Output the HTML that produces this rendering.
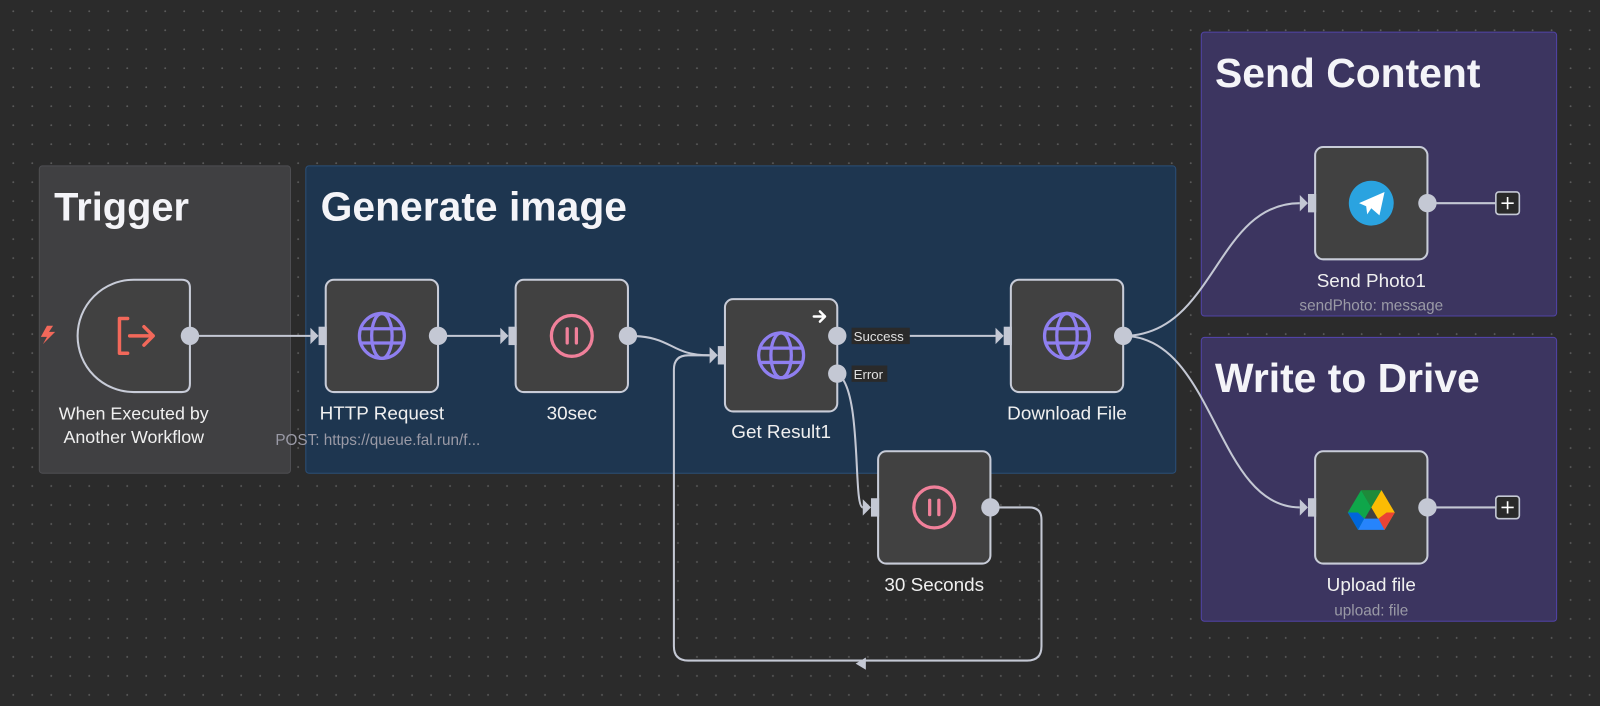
<!DOCTYPE html>
<html><head><meta charset="utf-8"><style>
html,body{margin:0;padding:0;background:#2b2b2b;}
svg{display:block;}
text{font-family:"Liberation Sans",sans-serif;}
</style></head><body>
<svg width="1600" height="706" viewBox="0 0 1567 691.5" preserveAspectRatio="none" xmlns="http://www.w3.org/2000/svg">
<defs>
<pattern id="dots" width="18.6" height="18.6" patternUnits="userSpaceOnUse" x="4" y="2">
<circle cx="9" cy="9" r="0.9" fill="#5c5c5c"/>
</pattern>
<g id="globe" fill="none" stroke="#8f7ff0" stroke-width="3.2">
<circle cx="0" cy="0" r="22"/>
<ellipse cx="0" cy="0" rx="10" ry="22"/>
<line x1="-22" y1="-7" x2="22" y2="-7"/>
<line x1="-22" y1="7" x2="22" y2="7"/>
</g>
<g id="pause" fill="none" stroke="#f0809a" stroke-width="3.2">
<circle cx="0" cy="0" r="20"/>
<line x1="-4.5" y1="-7" x2="-4.5" y2="7" stroke-linecap="round"/>
<line x1="4.5" y1="-7" x2="4.5" y2="7" stroke-linecap="round"/>
</g>
<g id="inp" fill="#c4c8d4">
<rect x="-4" y="-9" width="8" height="18"/>
<polygon points="-12,-8 -4,0 -12,8"/>
</g>
</defs>
<rect width="1567" height="692" fill="#2b2b2b"/>
<rect width="1567" height="692" fill="url(#dots)"/>

<!-- groups -->
<rect x="38.5" y="162.5" width="246" height="301" rx="3" fill="#404042" stroke="#4e4e52"/>
<text x="53" y="216" font-size="39" font-weight="bold" fill="#f4f4f8">Trigger</text>
<rect x="299.5" y="162.5" width="852" height="301" rx="3" fill="#1e3650" stroke="#2b4f78"/>
<text x="314" y="216" font-size="40" font-weight="bold" fill="#f4f4f8">Generate image</text>
<rect x="1176.5" y="31.5" width="348" height="278" rx="3" fill="#3c3560" stroke="#5143a6"/>
<text x="1190" y="85" font-size="40" font-weight="bold" fill="#f4f4f8">Send Content</text>
<rect x="1176.5" y="330.5" width="348" height="278" rx="3" fill="#3c3560" stroke="#5143a6"/>
<text x="1190" y="384" font-size="40" font-weight="bold" fill="#f4f4f8">Write to Drive</text>

<!-- edges -->
<g fill="none" stroke="#c4c8d4" stroke-width="2">
<path d="M194 329 H304"/>
<path d="M429 329 H490"/>
<path d="M615 329 C660 329 655 348 695 348"/>
<path d="M868 329 H975"/>
<path d="M820 366 C845 380 835 497 845 497"/>
<path d="M970 497 H1008 Q1020 497 1020 509 V633 Q1020 647 1006 647 H674 Q660 647 660 633 V362 Q660 348 674 348 H695"/>
<path d="M1100 329 C1190 329 1190 199 1273 199"/>
<path d="M1100 329 C1190 329 1190 497 1273 497"/>
<path d="M1398 199 H1465"/>
<path d="M1398 497 H1465"/>
</g>
<polygon points="838,650 848,644 848,656" fill="#c4c8d4"/>

<!-- trigger node -->
<path d="M131 274 H178 Q186 274 186 282 V376 Q186 384 178 384 H131 A55 55 0 0 1 76 329 A55 55 0 0 1 131 274 Z" fill="#414141" stroke="#c8ccd8" stroke-width="2"/>
<g fill="none" stroke="#f2685a" stroke-width="3.4" stroke-linecap="round" stroke-linejoin="round">
<path d="M125 312 H117 V346 H125"/>
<path d="M127 329 H150 M141 320 L150 329 L141 338"/>
</g>
<path d="M46 319 L40 330 H46 L42 337 L54 325 H48 L52 319 Z" fill="#f2685a"/>
<circle cx="186" cy="329" r="9" fill="#c4c8d4"/>
<text x="131" y="411" font-size="17.5" fill="#f0f0f0" text-anchor="middle">When Executed by</text>
<text x="131" y="434" font-size="17.5" fill="#f0f0f0" text-anchor="middle">Another Workflow</text>

<!-- nodes -->
<g stroke="#c8ccd8" stroke-width="2" fill="#414141">
<rect x="319" y="274" width="110" height="110" rx="8"/>
<rect x="505" y="274" width="110" height="110" rx="8"/>
<rect x="710" y="293" width="110" height="110" rx="8"/>
<rect x="990" y="274" width="110" height="110" rx="8"/>
<rect x="860" y="442" width="110" height="110" rx="8"/>
<rect x="1288" y="144" width="110" height="110" rx="8"/>
<rect x="1288" y="442" width="110" height="110" rx="8"/>
</g>
<use href="#globe" x="374" y="329"/>
<use href="#pause" x="560" y="329"/>
<use href="#globe" x="765" y="348"/>
<use href="#globe" x="1045" y="329"/>
<use href="#pause" x="915" y="497"/>
<!-- telegram -->
<circle cx="1343" cy="199" r="22" fill="#2aa3e0"/>
<polygon points="1331,199 1356,188 1351,211 1343,204 1339,210 1338,202" fill="#fff"/>
<!-- drive -->
<g>
<polygon points="1333,480 1353,480 1343,497" fill="#1e8a3a"/>
<polygon points="1333,480 1343,497 1330,519 1320,502" fill="#0fa64a"/>
<polygon points="1353,480 1366,502 1356,519 1343,497" fill="#fbbc04"/>
<polygon points="1330,519 1336,508 1360,508 1356,519" fill="#2684fc"/>
<polygon points="1320,502 1330,502 1336,508 1330,519" fill="#0066da"/>
<polygon points="1366,502 1356,519 1350,508 1358,502" fill="#ea4335"/>
</g>

<!-- ports -->
<g fill="#c4c8d4">
<circle cx="429" cy="329" r="9"/>
<circle cx="615" cy="329" r="9"/>
<circle cx="820" cy="329" r="9"/>
<circle cx="820" cy="366" r="9"/>
<circle cx="1100" cy="329" r="9"/>
<circle cx="970" cy="497" r="9"/>
<circle cx="1398" cy="199" r="9"/>
<circle cx="1398" cy="497" r="9"/>
</g>
<use href="#inp" x="316" y="329"/>
<use href="#inp" x="502" y="329"/>
<use href="#inp" x="707" y="348"/>
<use href="#inp" x="987" y="329"/>
<use href="#inp" x="857" y="497"/>
<use href="#inp" x="1285" y="199"/>
<use href="#inp" x="1285" y="497"/>

<!-- arrow on get result -->
<path d="M797 310 H808 M803 305 L808 310 L803 315" fill="none" stroke="#fff" stroke-width="2.4" stroke-linecap="round" stroke-linejoin="round"/>

<!-- port labels -->
<rect x="834" y="321" width="57" height="16" fill="#2a2a2a"/>
<text x="836" y="334" font-size="13" fill="#e0e0e0">Success</text>
<rect x="834" y="358" width="35" height="16" fill="#2a2a2a"/>
<text x="836" y="371" font-size="13" fill="#e0e0e0">Error</text>

<!-- plus boxes -->
<g fill="#2a2a2a" stroke="#c4c8d4" stroke-width="1.6">
<rect x="1465" y="188" width="23" height="22" rx="3"/>
<rect x="1465" y="486" width="23" height="22" rx="3"/>
</g>
<g stroke="#fff" stroke-width="1.6">
<path d="M1476.5 193 V205 M1470.5 199 H1482.5"/>
<path d="M1476.5 491 V503 M1470.5 497 H1482.5"/>
</g>

<!-- labels -->
<g font-size="18.5" fill="#f0f0f0" text-anchor="middle">
<text x="374" y="411">HTTP Request</text>
<text x="560" y="411">30sec</text>
<text x="765" y="429">Get Result1</text>
<text x="1045" y="411">Download File</text>
<text x="915" y="579">30 Seconds</text>
<text x="1343" y="281">Send Photo1</text>
<text x="1343" y="579">Upload file</text>
</g>
<g font-size="15" fill="#9a9aa6" text-anchor="middle">
<text x="370" y="436">POST: https://queue.fal.run/f...</text>
<text x="1343" y="304">sendPhoto: message</text>
<text x="1343" y="603">upload: file</text>
</g>
</svg>
</body></html>
